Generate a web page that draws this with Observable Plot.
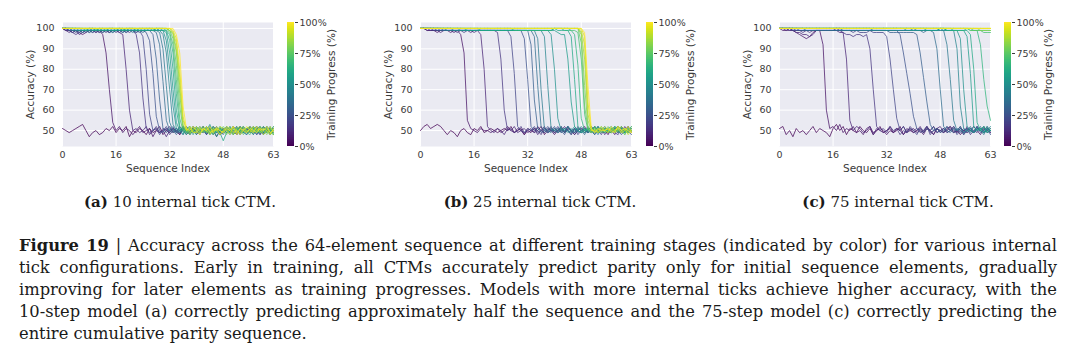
<!DOCTYPE html>
<html><head><meta charset="utf-8">
<script src="https://cdn.jsdelivr.net/npm/d3@7"></script>
<script src="https://cdn.jsdelivr.net/npm/@observablehq/plot@0.6"></script>
<style>
body{margin:0;background:#fff}
#fig{position:relative;width:1080px;height:359px;overflow:hidden;background:#fff}
.abs{position:absolute;top:0}
.sub{position:absolute;top:191px;width:360px;text-align:center;font:15px/22px "DejaVu Serif",serif;color:#1a1a1a}
.cap{position:absolute;left:19px;top:235px;width:1038px;font:16.3px/22.1px "DejaVu Serif",serif;color:#1a1a1a}
.cap .j{text-align:justify;text-align-last:justify;white-space:nowrap}
.cap .l{text-align:left;white-space:nowrap}
</style></head>
<body><div id="fig"></div>
<script>
const xTicks = [0, 16, 32, 48, 63];
const yTicks = [50, 60, 70, 80, 90, 100];
const progTicks = [0, 25, 50, 75, 100];
const progress = [0,5,10,15,20,25,30,35,40,45,50,55,60,65,70,75,80,85,90,95,100];

const accA = [
[51,50,49,50,51,52,53,50,47,49,50,48,49,51,50,52,49,51,50,52,47,50,49,51,50,48,51,49,50,52,48,50,49,51,50,48,52,49,50,51,48,50,52,49,51,50,47,50,51,49,50,52,48,50,51,49,50,52,49,51,48,50,51,49],
[100,99,99,98,99,98,97,98,99,99,98,99,97,88,70,54,50,52,49,51,50,48,50,52,49,50,51,47,50,49,51,50,52,49,50,48,51,50,49,52,50,48,51,50,49,52,50,48,49,51,50,52,48,50,49,51,51,49,50,48,52,50,49,50],
[100,99,98,99,99,97,98,99,98,99,99,98,99,99,98,99,99,98,97,80,60,50,51,49,50,52,48,50,51,49,50,47,50,51,49,52,50,48,50,51,49,50,52,48,51,50,49,51,50,49,51,50,48,52,50,49,52,50,48,51,49,50,51,50],
[100,99,99,98,97,98,99,99,99,98,99,99,98,99,98,99,99,98,99,99,98,99,97,88,66,51,49,50,52,49,50,51,48,50,51,49,50,52,49,50,51,49,50,48,51,50,52,49,50,51,49,50,52,48,50,51,49,50,52,49,50,51,48,50],
[100,100,99,98,99,99,98,99,99,99,98,99,99,98,99,99,98,99,99,98,99,99,98,99,96,80,58,50,51,48,50,52,49,51,50,49,52,50,48,51,50,49,51,50,52,49,50,48,51,50,49,52,50,51,49,50,50,48,51,50,49,52,50,51],
[100,100,99,99,98,99,99,98,99,99,99,98,99,99,99,98,99,99,98,99,99,99,98,99,99,98,94,78,57,50,49,51,50,52,49,50,51,48,50,49,52,50,49,51,50,48,51,50,49,51,50,48,50,52,49,51,50,49,51,52,48,50,50,49],
[100,100,99,99,99,98,99,99,99,98,99,99,99,99,98,99,99,99,99,98,99,99,99,98,99,99,99,97,85,65,51,49,51,50,48,50,52,49,51,50,49,51,50,52,48,50,49,51,50,52,49,50,51,49,50,48,51,50,49,50,52,49,51,50],
[100,100,100,99,99,99,98,99,99,99,99,99,98,99,99,99,99,99,98,99,99,99,99,99,98,99,99,99,98,92,74,55,50,49,51,50,48,51,50,52,50,49,51,48,50,52,50,49,51,50,48,50,51,49,52,50,49,51,50,48,50,51,49,52],
[100,100,100,99,99,99,99,99,98,99,99,99,99,99,99,98,99,99,99,99,99,98,99,99,99,99,99,99,99,98,90,72,54,50,49,51,50,52,48,50,51,50,49,52,50,51,49,50,48,51,50,49,51,50,52,49,50,51,48,50,49,52,50,51],
[100,100,100,100,99,99,99,99,99,99,99,99,99,99,99,99,99,99,99,99,99,99,99,99,99,99,99,99,99,99,97,88,70,53,50,49,51,50,48,51,50,52,49,50,51,48,50,49,51,50,52,49,50,51,49,48,50,52,50,49,51,50,48,50],
[100,100,100,100,100,99,99,99,99,100,99,99,99,99,99,99,99,99,99,100,99,99,99,99,99,99,99,99,99,99,99,94,80,62,51,50,48,51,52,49,50,49,51,50,53,49,50,51,49,50,51,48,50,52,49,51,52,49,50,51,49,50,52,48],
[100,100,100,100,100,100,99,99,100,99,99,100,99,99,100,99,99,100,99,99,99,100,99,99,99,99,99,99,100,99,99,98,88,70,54,50,52,49,50,48,51,50,52,49,50,51,47,50,50,52,49,51,50,49,51,50,49,51,52,50,48,51,50,49],
[100,100,100,100,100,100,100,99,100,100,99,100,100,99,100,100,99,100,100,99,100,100,99,100,100,99,100,100,99,100,99,99,94,80,60,51,49,50,52,50,48,51,50,49,52,50,51,49,45,49,50,52,48,50,51,50,50,48,51,49,50,52,49,51],
[100,100,100,100,100,100,100,100,100,100,100,99,100,100,100,100,100,100,99,100,100,100,100,99,100,100,100,99,100,100,100,99,97,88,68,52,50,48,51,50,52,49,50,51,48,50,49,52,49,51,50,48,52,50,49,51,51,50,49,52,50,49,51,48],
[100,100,100,100,100,100,100,100,100,100,100,100,100,100,100,100,100,100,100,100,100,100,100,100,100,100,100,100,100,100,100,100,98,92,75,56,50,51,49,52,50,48,51,50,49,52,50,51,50,49,52,50,51,48,50,49,48,51,50,49,52,50,48,51],
[100,100,100,100,100,100,100,100,100,100,100,100,100,100,100,100,100,100,100,100,100,100,100,100,100,100,100,100,100,100,100,100,99,95,82,62,51,49,52,50,49,51,50,52,50,48,51,50,52,50,49,51,50,51,48,50,50,52,49,50,51,49,50,52],
[100,100,100,100,100,100,100,100,100,100,100,100,100,100,100,100,100,100,100,100,100,100,100,100,100,100,100,100,100,100,100,100,99,97,88,68,52,50,48,51,51,50,52,49,51,50,50,48,50,48,51,50,49,51,52,49,51,49,50,52,50,48,51,50],
[100,100,100,100,100,100,100,100,100,100,100,100,100,100,100,100,100,100,100,100,100,100,100,100,100,100,100,100,100,100,100,100,99,98,90,72,53,50,51,49,50,52,49,51,50,49,52,50,49,51,50,48,51,52,50,51,52,50,51,49,50,51,49,48],
[100,100,100,100,100,100,100,100,100,100,100,100,100,100,100,100,100,100,100,100,100,100,100,100,100,100,100,100,100,100,100,100,100,98,93,76,55,51,49,50,52,49,51,50,48,51,50,52,51,50,48,52,50,49,51,50,49,52,50,51,48,50,52,49],
[100,100,100,100,100,100,100,100,100,100,100,100,100,100,100,100,100,100,100,100,100,100,100,100,100,100,100,100,100,100,100,100,100,99,95,80,57,50,52,49,49,51,50,52,49,50,51,48,50,52,51,49,50,48,50,52,50,49,52,50,51,50,48,51],
[100,100,100,100,100,100,100,100,100,100,100,100,100,100,100,100,100,100,100,100,100,100,100,100,100,100,100,100,100,100,100,100,100,100,97,88,62,51,50,52,50,48,51,50,52,49,51,50,49,51,50,52,48,51,50,49,51,50,49,51,50,52,49,50]
];

const accB = [
[50,52,53,51,52,53,52,50,48,50,49,47,50,51,49,48,51,50,52,49,50,51,50,49,50,51,50,52,49,50,51,48,50,49,51,50,52,48,50,51,49,50,52,49,51,50,48,50,51,49,50,52,50,49,51,50,48,51,50,49,52,50,49,51],
[100,100,99,99,99,98,99,99,99,98,99,99,97,88,55,51,50,49,51,50,50,49,50,51,49,50,52,50,49,51,50,48,51,50,49,52,50,49,51,50,48,50,51,49,52,50,49,51,50,52,49,50,48,51,50,49,51,50,48,52,50,49,51,50],
[100,100,99,99,99,99,98,99,99,99,98,99,99,99,99,98,99,99,97,80,52,50,49,51,50,48,51,50,52,49,50,51,49,50,51,48,50,52,49,50,51,49,50,52,50,48,51,50,49,51,50,49,52,50,51,48,50,49,51,50,49,52,50,51],
[100,100,100,99,99,99,99,99,99,99,99,98,99,99,99,99,98,99,99,99,99,99,99,98,85,60,50,51,49,50,52,49,50,51,49,50,48,51,50,52,49,50,51,49,52,50,48,50,51,50,49,51,50,52,49,50,50,51,49,48,51,50,52,49],
[100,100,100,100,99,99,99,99,99,99,99,99,99,98,99,99,99,99,99,99,99,99,99,99,99,99,99,96,78,52,50,49,51,50,52,49,50,51,49,50,50,52,49,51,50,49,51,48,50,49,51,50,52,50,48,51,49,50,51,52,49,50,51,50],
[100,100,100,100,100,99,99,99,99,99,99,99,99,99,99,99,99,99,99,99,99,99,99,99,99,99,99,99,99,99,99,95,75,52,50,51,49,50,52,50,49,51,50,48,51,50,49,52,50,51,49,50,52,49,50,51,49,50,52,49,50,51,50,48],
[100,100,100,100,100,100,99,99,99,99,99,99,99,99,99,99,99,99,99,99,99,99,99,99,99,99,99,99,99,99,99,99,99,92,65,51,50,49,51,50,52,49,50,51,50,48,51,50,49,50,52,50,49,51,50,52,50,49,51,50,48,50,52,49],
[100,100,100,100,100,100,100,99,99,99,99,99,99,99,99,99,99,99,99,99,99,99,99,99,99,99,99,99,99,99,99,99,99,99,96,72,52,50,49,51,50,51,49,50,52,50,51,49,50,48,51,50,49,52,50,51,51,50,49,52,50,49,50,51],
[100,100,100,100,100,100,100,100,99,99,99,99,99,99,99,99,99,99,99,99,99,99,99,99,99,99,99,99,99,99,99,99,99,99,99,95,70,51,50,49,51,50,52,49,50,51,49,50,52,50,49,51,50,48,51,50,49,51,50,50,52,49,51,50],
[100,100,100,100,100,100,100,100,100,100,99,99,99,99,99,99,99,99,99,99,99,99,99,99,99,99,99,99,99,99,99,99,99,99,99,99,99,96,72,51,50,49,51,50,52,49,50,51,50,51,49,50,52,50,49,51,50,49,52,50,51,49,50,52],
[100,100,100,100,100,100,100,100,100,100,100,100,99,99,99,99,99,99,99,99,99,99,99,99,99,99,99,99,99,99,99,99,99,99,99,99,99,99,99,97,80,56,50,51,49,50,52,50,49,50,51,50,48,51,50,49,51,52,49,50,51,49,50,51],
[100,100,100,100,100,100,100,100,100,100,100,100,100,100,99,99,99,99,99,99,99,99,99,99,99,99,99,99,99,99,99,99,99,99,99,99,99,99,99,99,99,98,97,97,85,64,52,50,49,51,50,52,49,50,51,50,50,49,51,50,52,50,49,51],
[100,100,100,100,100,100,100,100,100,100,100,100,100,100,100,100,100,100,99,99,99,99,99,99,99,99,99,99,99,99,99,99,99,99,99,99,99,99,99,99,100,99,99,99,99,96,75,52,50,49,51,50,52,49,50,51,49,51,50,52,50,49,51,50],
[100,100,100,100,100,100,100,100,100,100,100,100,100,100,100,100,100,100,100,100,100,100,100,100,100,100,100,100,99,99,99,99,99,99,99,99,99,99,99,99,100,100,100,99,99,99,97,82,56,50,51,49,50,52,50,49,51,50,52,49,50,51,49,50],
[100,100,100,100,100,100,100,100,100,100,100,100,100,100,100,100,100,100,100,100,100,100,100,100,100,100,100,100,100,100,100,100,100,100,100,100,100,100,100,100,100,100,100,100,100,99,99,98,85,58,50,49,51,50,52,49,50,51,49,52,50,48,51,50],
[100,100,100,100,100,100,100,100,100,100,100,100,100,100,100,100,100,100,100,100,100,100,100,100,100,100,100,100,100,100,100,100,100,100,100,100,100,100,100,100,100,100,100,100,100,100,100,100,93,62,51,50,52,49,50,51,49,50,52,50,49,51,50,52],
[100,100,100,100,100,100,100,100,100,100,100,100,100,100,100,100,100,100,100,100,100,100,100,100,100,100,100,100,100,100,100,100,100,100,100,100,100,100,100,100,100,100,100,100,100,100,100,100,97,72,52,49,50,51,49,50,52,49,50,51,50,48,51,50],
[100,100,100,100,100,100,100,100,100,100,100,100,100,100,100,100,100,100,100,100,100,100,100,100,100,100,100,100,100,100,100,100,100,100,100,100,100,100,100,100,100,100,100,100,100,100,100,100,98,85,55,50,51,49,50,52,50,51,49,50,52,50,49,51],
[100,100,100,100,100,100,100,100,100,100,100,100,100,100,100,100,100,100,100,100,100,100,100,100,100,100,100,100,100,100,100,100,100,100,100,100,100,100,100,100,100,100,100,100,100,100,100,100,99,92,58,51,49,50,52,50,51,49,50,52,50,51,48,50],
[100,100,100,100,100,100,100,100,100,100,100,100,100,100,100,100,100,100,100,100,100,100,100,100,100,100,100,100,100,100,100,100,100,100,100,100,100,100,100,100,100,100,100,100,100,100,100,100,100,96,64,50,50,49,51,50,49,52,50,51,49,50,52,49],
[100,100,100,100,100,100,100,100,100,100,100,100,100,100,100,100,100,100,100,100,100,100,100,100,100,100,100,100,100,100,100,100,100,100,100,100,100,100,100,100,100,100,100,100,100,100,100,100,100,98,72,51,49,51,50,50,51,50,49,52,50,51,50,49]
];

const accC = [
[51,52,48,50,47,51,49,50,48,50,52,49,51,50,49,47,51,53,50,52,48,51,50,49,52,50,49,51,48,50,52,49,50,51,49,50,52,48,50,51,49,50,51,49,52,50,48,51,50,49,51,52,49,50,48,50,51,50,49,51,50,52,49,50],
[100,99,99,100,99,98,97,96,95,96,98,99,99,92,60,51,52,50,53,49,51,50,52,49,50,48,51,52,49,50,51,50,48,50,49,51,50,52,49,50,51,49,50,48,51,50,52,49,50,51,49,50,52,49,51,50,49,50,52,50,48,51,50,49],
[100,100,99,99,99,98,98,97,97,96,97,99,99,99,99,99,99,99,98,98,85,55,50,52,51,49,50,52,48,51,50,49,50,52,49,51,50,48,51,50,49,50,52,49,51,50,48,51,52,49,50,51,49,50,52,48,50,51,49,52,50,49,50,51],
[100,100,100,99,99,99,99,98,99,98,99,99,99,99,99,99,99,100,99,98,97,97,96,97,97,96,97,90,70,52,50,51,49,52,50,51,48,50,49,52,50,51,49,50,52,48,50,51,49,51,50,52,50,49,51,50,51,48,50,49,51,50,52,49],
[100,100,100,100,99,99,99,99,99,99,99,99,99,99,99,99,99,99,99,99,99,99,98,99,98,98,98,99,98,98,98,98,96,85,70,56,50,52,49,51,50,48,51,50,52,49,50,51,50,49,52,50,51,48,50,49,52,50,49,51,50,49,51,50],
[100,100,100,100,100,99,99,99,99,99,99,99,99,99,99,99,99,99,99,99,99,99,99,99,99,99,99,99,99,99,99,99,99,99,99,99,97,88,78,68,57,51,50,49,51,50,52,49,50,51,49,50,52,50,49,51,49,51,50,52,49,50,51,48],
[100,100,100,100,100,100,99,99,99,99,99,99,99,99,99,99,99,99,99,99,99,99,99,99,99,99,99,99,99,99,99,99,99,98,98,98,98,98,98,98,98,97,88,76,64,53,50,51,49,50,52,50,49,51,50,48,51,50,49,52,50,51,49,50],
[100,100,100,100,100,100,100,100,99,99,99,99,99,99,99,99,99,99,99,99,99,99,99,99,99,99,99,99,99,99,99,99,99,99,99,99,99,99,99,99,99,99,99,98,99,99,98,90,70,52,50,49,51,50,52,49,50,51,49,50,52,49,51,50],
[100,100,100,100,100,100,100,100,100,100,100,100,100,100,100,100,100,100,100,99,99,99,99,99,99,99,99,99,99,99,99,99,99,99,99,99,99,99,99,99,100,99,99,99,99,99,99,99,99,99,92,75,55,50,51,49,50,52,49,51,50,48,51,50],
[100,100,100,100,100,100,100,100,100,100,100,100,100,100,100,100,100,100,100,100,100,100,100,100,100,100,100,100,99,99,99,99,99,99,99,99,99,99,99,99,99,99,99,99,99,99,99,99,99,99,99,99,99,90,62,51,50,49,52,50,51,49,50,52],
[100,100,100,100,100,100,100,100,100,100,100,100,100,100,100,100,100,100,100,100,100,100,100,100,100,100,100,100,100,100,100,100,100,100,100,100,100,100,99,99,99,99,99,99,99,99,99,99,100,99,99,99,99,99,95,70,52,50,49,51,50,52,49,50],
[100,100,100,100,100,100,100,100,100,100,100,100,100,100,100,100,100,100,100,100,100,100,100,100,100,100,100,100,100,100,100,100,100,100,100,100,100,100,100,100,100,100,100,100,99,99,99,99,100,100,99,99,99,99,99,99,96,78,52,50,51,49,52,50],
[100,100,100,100,100,100,100,100,100,100,100,100,100,100,100,100,100,100,100,100,100,100,100,100,100,100,100,100,100,100,100,100,100,100,100,100,100,100,100,100,100,100,100,100,100,100,100,100,100,100,99,99,99,99,99,99,99,97,80,54,50,52,49,51],
[100,100,100,100,100,100,100,100,100,100,100,100,100,100,100,100,100,100,100,100,100,100,100,100,100,100,100,100,100,100,100,100,100,100,100,100,100,100,100,100,100,100,100,100,100,100,100,100,100,100,100,100,99,99,99,99,100,99,99,99,92,75,62,55],
[100,100,100,100,100,100,100,100,100,100,100,100,100,100,100,100,100,100,100,100,100,100,100,100,100,100,100,100,100,100,100,100,100,100,100,100,100,100,100,100,100,100,100,100,100,100,100,100,100,100,100,100,100,100,100,100,100,100,99,99,99,98,98,98],
[100,100,100,100,100,100,100,100,100,100,100,100,100,100,100,100,100,100,100,100,100,100,100,100,100,100,100,100,100,100,100,100,100,100,100,100,100,100,100,100,100,100,100,100,100,100,100,100,100,100,100,100,100,100,100,100,100,99,99,99,99,99,99,99],
[100,100,100,100,100,100,100,100,100,100,100,100,100,100,100,100,100,100,100,100,100,100,100,100,100,100,100,100,100,100,100,100,100,100,100,100,100,100,100,100,100,100,100,100,100,100,100,100,100,100,100,100,100,100,100,100,100,100,100,100,99,99,99,99],
[100,100,100,100,100,100,100,100,100,100,100,100,100,100,100,100,100,100,100,100,100,100,100,100,100,100,100,100,100,100,100,100,100,100,100,100,100,100,100,100,100,100,100,100,100,100,100,100,100,100,100,100,100,100,100,100,100,100,100,100,100,100,100,100],
[100,100,100,100,100,100,100,100,100,100,100,100,100,100,100,100,100,100,100,100,100,100,100,100,100,100,100,100,100,100,100,100,100,100,100,100,100,100,100,100,100,100,100,100,100,100,100,100,100,100,100,100,100,100,100,100,100,100,100,100,100,100,100,100],
[100,100,100,100,100,100,100,100,100,100,100,100,100,100,100,100,100,100,100,100,100,100,100,100,100,100,100,100,100,100,100,100,100,100,100,100,100,100,100,100,100,100,100,100,100,100,100,100,100,100,100,100,100,100,100,100,100,100,100,100,100,100,100,100],
[100,100,100,100,100,100,100,100,100,100,100,100,100,100,100,100,100,100,100,100,100,100,100,100,100,100,100,100,100,100,100,100,100,100,100,100,100,100,100,100,100,100,100,100,100,100,100,100,100,100,100,100,100,100,100,100,100,100,100,100,100,100,100,100]
];

const subLabels = ["(a)", "(b)", "(c)"];
const subTexts = ["10 internal tick CTM.", "25 internal tick CTM.", "75 internal tick CTM."];
const captionBold = "Figure 19";
const captionLines = [
  " | Accuracy across the 64-element sequence at different training stages (indicated by color) for various internal",
  "tick configurations.  Early in training, all CTMs accurately predict parity only for initial sequence elements, gradually",
  "improving for later elements as training progresses. Models with more internal ticks achieve higher accuracy, with the",
  "10-step model (a) correctly predicting approximately half the sequence and the 75-step model (c) correctly predicting the",
  "entire cumulative parity sequence."
];

const font = "'DejaVu Sans', sans-serif";
const ink = "#3a3a3a";
const fs = "9.5px";
const fsLabel = "10.5px";
const colorOpts = {type: "linear", scheme: "viridis", domain: [0, 100]};

function mainPlot(acc) {
  const rows = acc.flatMap((s, k) => s.map((v, i) => ({k, p: progress[k], i, v})));
  return Plot.plot({
    width: 300, height: 180,
    marginLeft: 62, marginRight: 27, marginTop: 22, marginBottom: 34,
    style: {fontFamily: font, fontSize: fs, color: ink, background: "none", overflow: "visible"},
    x: {domain: [0, 63]},
    y: {domain: [42.2, 102.9]},
    color: colorOpts,
    marks: [
      Plot.frame({fill: "#eaeaf2", stroke: "none"}),
      Plot.gridX(xTicks, {stroke: "#ffffff", strokeOpacity: 1, strokeWidth: 1}),
      Plot.gridY(yTicks, {stroke: "#ffffff", strokeOpacity: 1, strokeWidth: 1}),
      Plot.line(rows, {x: "i", y: "v", z: "k", stroke: "p", strokeWidth: 1, strokeOpacity: 0.75}),
      Plot.axisX(xTicks, {tickSize: 0, tickPadding: 5, label: null, fontSize: fs}),
      Plot.axisY(yTicks, {tickSize: 0, tickPadding: 8, label: null, fontSize: fs}),
      Plot.text(["Sequence Index"], {text: d => d, frameAnchor: "bottom", dy: 25, fill: ink, fontSize: fsLabel, textAnchor: "middle"}),
      Plot.text(["Accuracy (%)"], {text: d => d, frameAnchor: "left", dx: -32, rotate: -90, fill: ink, fontSize: fsLabel, textAnchor: "middle"})
    ]
  });
}

function colorbar() {
  const steps = d3.range(0, 100, 0.5);
  return Plot.plot({
    width: 70, height: 180,
    marginLeft: 0, marginRight: 63, marginTop: 22, marginBottom: 34,
    style: {fontFamily: font, fontSize: fs, color: ink, background: "none", overflow: "visible"},
    x: {domain: [0, 1], axis: null},
    y: {domain: [0, 100]},
    color: colorOpts,
    marks: [
      Plot.rect(steps, {x1: () => 0, x2: () => 1, y1: d => d, y2: d => d + 0.6, fill: d => d, shapeRendering: "crispEdges"}),
      Plot.axisY(progTicks, {anchor: "right", tickSize: 3, tickPadding: 2, tickFormat: d => d + "%", label: null, fontSize: fs}),
      Plot.text(["Training Progress (%)"], {text: d => d, frameAnchor: "right", dx: 37, rotate: -90, fill: ink, fontSize: fsLabel, textAnchor: "middle"})
    ]
  });
}

const fig = document.getElementById("fig");
const panels = [accA, accB, accC];
const mainLeft = [0, 358, 717];
const barLeft = [287, 646, 1004];
panels.forEach((acc, j) => {
  const m = document.createElement("div");
  m.className = "abs"; m.style.left = mainLeft[j] + "px";
  m.appendChild(mainPlot(acc));
  fig.appendChild(m);
  const c = document.createElement("div");
  c.className = "abs"; c.style.left = barLeft[j] + "px";
  c.appendChild(colorbar());
  fig.appendChild(c);
  const s = document.createElement("div");
  s.className = "sub"; s.style.left = (j * 360 - (j === 2 ? 2 : 0)) + "px";
  const b = document.createElement("b"); b.textContent = subLabels[j];
  s.appendChild(b);
  s.appendChild(document.createTextNode(" " + subTexts[j]));
  fig.appendChild(s);
});

const cap = document.createElement("div");
cap.className = "cap";
captionLines.forEach((t, i) => {
  const d = document.createElement("div");
  d.className = i < captionLines.length - 1 ? "j" : "l";
  if (i === 0) {
    const b = document.createElement("b"); b.textContent = captionBold;
    d.appendChild(b);
  }
  d.appendChild(document.createTextNode(t));
  cap.appendChild(d);
});
fig.appendChild(cap);
</script>
</body></html>
